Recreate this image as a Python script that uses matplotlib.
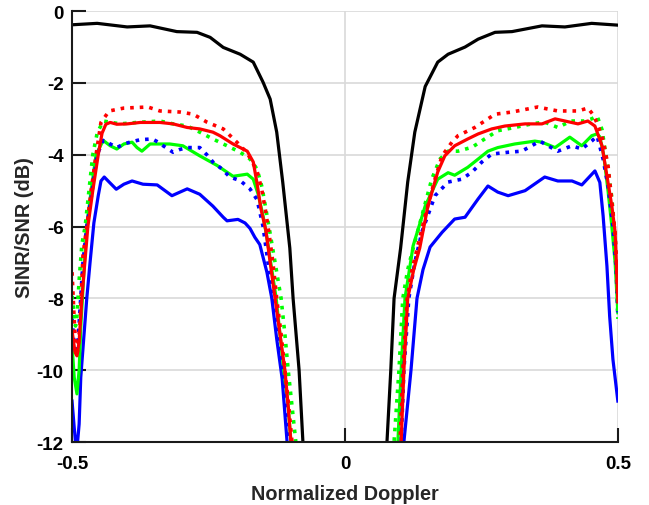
import matplotlib
matplotlib.use("Agg")
import matplotlib.pyplot as plt

# ---- data (normalized Doppler, SINR/SNR in dB) ----
black_xl = [-0.500, -0.454, -0.399, -0.357, -0.308, -0.271, -0.247, -0.223, -0.192, -0.168,
            -0.150, -0.137, -0.125, -0.114, -0.101, -0.095, -0.084, -0.077, -0.074]
black_yl = [-0.38, -0.34, -0.44, -0.41, -0.57, -0.59, -0.73, -1.01, -1.20, -1.42,
            -1.98, -2.45, -3.37, -4.76, -6.6, -8.0, -10.0, -12.0, -12.6]
black_xr = [0.074, 0.077, 0.084, 0.090, 0.102, 0.115, 0.128, 0.147, 0.170, 0.189, 0.220,
            0.244, 0.275, 0.306, 0.361, 0.403, 0.452, 0.500]
black_yr = [-12.6, -12.0, -10.0, -8.0, -6.6, -4.76, -3.37, -2.1, -1.42, -1.2, -1.0,
            -0.78, -0.59, -0.57, -0.41, -0.44, -0.34, -0.39]

red_dot_xl = [-0.500, -0.496, -0.493, -0.491, -0.489, -0.485, -0.480, -0.473, -0.465, -0.456,
              -0.447, -0.432, -0.405, -0.361, -0.339, -0.302, -0.278, -0.253, -0.223, -0.198,
              -0.179, -0.161, -0.152, -0.145, -0.139, -0.132, -0.125, -0.117, -0.110, -0.103,
              -0.097, -0.095]
red_dot_yl = [-7.27, -8.6, -9.4, -9.6, -9.4, -8.6, -6.8, -6.0, -5.0, -4.0,
              -3.1, -2.78, -2.70, -2.67, -2.78, -2.81, -2.87, -3.09, -3.28, -3.65,
              -3.95, -4.45, -5.0, -5.6, -6.2, -7.0, -8.0, -9.0, -10.0, -11.0,
              -12.0, -12.5]
red_dot_xr = [0.099, 0.101, 0.106, 0.114, 0.123, 0.134, 0.147, 0.165, 0.178, 0.196,
              0.207, 0.238, 0.275, 0.306, 0.353, 0.390, 0.427, 0.445, 0.454, 0.463,
              0.473, 0.482, 0.489, 0.495, 0.498, 0.500]
red_dot_yr = [-12.6, -12.0, -10.0, -8.0, -7.2, -6.5, -5.7, -4.68, -4.03, -3.65,
              -3.47, -3.24, -2.87, -2.81, -2.67, -2.78, -2.78, -2.70, -2.87, -3.15,
              -3.6, -4.3, -5.3, -6.2, -7.1, -8.0]

red_xl = [-0.500, -0.4945, -0.491, -0.487, -0.482, -0.476, -0.471, -0.462, -0.452, -0.445,
          -0.438, -0.430, -0.418, -0.399, -0.375, -0.339, -0.315, -0.289, -0.266, -0.242,
          -0.229, -0.205, -0.179, -0.168, -0.161, -0.154, -0.145, -0.137, -0.128, -0.119,
          -0.110, -0.104, -0.099, -0.097]
red_yl = [-8.9, -9.5, -9.6, -9.2, -8.0, -6.9, -6.0, -5.0, -4.0, -3.4,
          -3.15, -3.1, -3.15, -3.14, -3.1, -3.1, -3.14, -3.24, -3.28, -3.37,
          -3.47, -3.7, -3.9, -4.2, -4.8, -5.5, -6.1, -7.0, -8.0, -9.0,
          -10.0, -11.0, -12.0, -12.5]
red_xr = [0.101, 0.103, 0.108, 0.115, 0.126, 0.137, 0.152, 0.170, 0.183, 0.201,
          0.225, 0.244, 0.269, 0.293, 0.330, 0.361, 0.385, 0.403, 0.427, 0.445,
          0.458, 0.471, 0.480, 0.489, 0.495, 0.500]
red_yr = [-12.6, -12.0, -10.0, -8.0, -7.2, -6.6, -5.43, -4.48, -4.03, -3.75,
          -3.56, -3.42, -3.28, -3.2, -3.14, -3.14, -3.0, -3.06, -3.14, -3.06,
          -3.2, -3.75, -4.59, -5.43, -6.15, -8.1]

green_dot_xl = [-0.500, -0.496, -0.4936, -0.491, -0.487, -0.482, -0.476, -0.469, -0.462, -0.454,
                -0.443, -0.412, -0.381, -0.339, -0.315, -0.289, -0.266, -0.242, -0.216, -0.192,
                -0.174, -0.161, -0.152, -0.145, -0.137, -0.128, -0.117, -0.110, -0.104, -0.097,
                -0.090, -0.088]
green_dot_yl = [-7.93, -8.5, -8.77, -8.5, -7.5, -6.5, -6.0, -5.0, -4.0, -3.4,
                -3.06, -3.14, -3.1, -3.06, -3.14, -3.2, -3.37, -3.56, -3.75, -3.93,
                -4.12, -4.4, -4.9, -5.5, -6.2, -7.0, -8.0, -9.0, -10.0, -11.0,
                -12.0, -12.5]
green_dot_xr = [0.088, 0.090, 0.099, 0.106, 0.115, 0.125, 0.141, 0.159, 0.174, 0.189,
                0.207, 0.233, 0.256, 0.280, 0.311, 0.342, 0.366, 0.390, 0.414, 0.438,
                0.452, 0.462, 0.471, 0.480, 0.489, 0.495, 0.498, 0.500]
green_dot_yr = [-12.5, -12.0, -10.0, -8.0, -7.2, -6.6, -5.7, -4.68, -4.12, -3.9,
                -3.9, -3.79, -3.56, -3.33, -3.24, -3.14, -3.09, -3.24, -3.06, -3.06,
                -3.0, -2.92, -3.3, -4.2, -5.2, -6.3, -7.3, -8.57]

green_xl = [-0.500, -0.496, -0.491, -0.487, -0.484, -0.478, -0.473, -0.465, -0.456, -0.443,
            -0.430, -0.418, -0.405, -0.390, -0.381, -0.372, -0.357, -0.321, -0.297, -0.266,
            -0.234, -0.205, -0.179, -0.168, -0.159, -0.150, -0.143, -0.136, -0.126, -0.119,
            -0.112, -0.104, -0.099, -0.097]
green_yl = [-9.3, -10.2, -10.66, -10.0, -8.8, -7.2, -6.0, -5.0, -4.0, -3.6,
            -3.75, -3.84, -3.7, -3.65, -3.8, -3.9, -3.7, -3.7, -3.75, -4.03,
            -4.3, -4.6, -4.54, -4.68, -5.1, -5.7, -6.3, -7.0, -8.0, -9.0,
            -10.0, -11.0, -12.0, -12.5]
green_xr = [0.095, 0.097, 0.103, 0.110, 0.125, 0.147, 0.170, 0.189, 0.201, 0.225,
            0.244, 0.262, 0.280, 0.311, 0.348, 0.361, 0.385, 0.412, 0.434, 0.452,
            0.462, 0.467, 0.474, 0.482, 0.489, 0.495, 0.500]
green_yr = [-12.5, -12.0, -10.0, -8.0, -6.53, -5.43, -4.68, -4.5, -4.57, -4.35,
            -4.12, -3.9, -3.8, -3.7, -3.62, -3.65, -3.8, -3.51, -3.75, -3.47,
            -3.42, -3.5, -4.0, -5.0, -6.0, -7.0, -8.4]

blue_dot_xl = [-0.500, -0.496, -0.493, -0.489, -0.485, -0.480, -0.473, -0.463, -0.454, -0.443,
               -0.430, -0.418, -0.405, -0.394, -0.375, -0.353, -0.342, -0.333, -0.315, -0.302,
               -0.289, -0.266, -0.253, -0.242, -0.225, -0.211, -0.192, -0.174, -0.161, -0.150,
               -0.141, -0.132, -0.123, -0.114, -0.108, -0.104, -0.103]
blue_dot_yl = [-8.57, -9.3, -9.55, -9.2, -8.2, -7.0, -6.0, -5.0, -4.0, -3.6,
               -3.7, -3.8, -3.7, -3.65, -3.58, -3.56, -3.65, -3.75, -3.93, -3.85,
               -3.8, -3.8, -4.0, -4.2, -4.4, -4.62, -4.72, -4.95, -5.25, -6.0,
               -7.0, -8.0, -9.0, -10.0, -11.0, -12.0, -12.5]
blue_dot_xr = [0.101, 0.103, 0.108, 0.117, 0.128, 0.141, 0.165, 0.189, 0.214, 0.233,
               0.251, 0.269, 0.299, 0.324, 0.342, 0.357, 0.372, 0.390, 0.416, 0.434,
               0.452, 0.462, 0.473, 0.482, 0.491, 0.497, 0.500]
blue_dot_yr = [-12.5, -12.0, -10.0, -8.0, -7.0, -6.15, -5.14, -4.76, -4.68, -4.48,
               -4.2, -3.98, -3.93, -3.9, -3.75, -3.62, -3.75, -3.9, -3.75, -3.84,
               -3.62, -3.48, -4.12, -4.87, -5.98, -7.2, -8.5]

blue_xl = [-0.500, -0.496, -0.493, -0.491, -0.487, -0.484, -0.478, -0.473, -0.467, -0.460,
           -0.452, -0.447, -0.441, -0.432, -0.419, -0.405, -0.390, -0.370, -0.344, -0.317,
           -0.289, -0.266, -0.242, -0.223, -0.216, -0.196, -0.183, -0.174, -0.165, -0.156,
           -0.143, -0.134, -0.125, -0.115, -0.106, -0.104]
blue_yl = [-10.86, -11.6, -12.1, -12.2, -11.5, -10.2, -9.0, -8.0, -7.0, -5.9,
           -5.14, -4.73, -4.62, -4.76, -4.96, -4.82, -4.73, -4.82, -4.84, -5.14,
           -4.95, -5.1, -5.43, -5.74, -5.84, -5.8, -5.9, -6.05, -6.3, -6.5,
           -7.27, -8.0, -9.13, -10.24, -12.0, -12.5]
blue_xr = [0.106, 0.108, 0.121, 0.132, 0.143, 0.156, 0.178, 0.201, 0.220, 0.244,
           0.262, 0.280, 0.299, 0.330, 0.366, 0.390, 0.416, 0.434, 0.458, 0.467,
           0.473, 0.480, 0.485, 0.491, 0.500]
blue_yr = [-12.5, -12.0, -10.0, -8.0, -7.2, -6.57, -6.16, -5.79, -5.74, -5.23,
           -4.87, -5.04, -5.14, -5.0, -4.62, -4.73, -4.73, -4.84, -4.45, -4.77,
           -5.7, -7.1, -8.5, -9.7, -10.86]

x_ticks = [-0.5, 0, 0.5]
x_tick_labels = ['-0.5', '0', '0.5']
y_ticks = [0, -2, -4, -6, -8, -10, -12]

plt.rcParams['font.family'] = ['Liberation Sans', 'DejaVu Sans']
plt.rcParams['font.weight'] = 'bold'
plt.rcParams['axes.unicode_minus'] = False

fig = plt.figure(figsize=(6.49, 5.06), dpi=100)
ax = fig.add_axes([0.111, 0.1245, 0.841, 0.8515])

series = [
    (black_xl, black_yl, black_xr, black_yr, 'black', '-'),
    (blue_xl, blue_yl, blue_xr, blue_yr, '#0000ff', '-'),
    (green_xl, green_yl, green_xr, green_yr, '#00ff00', '-'),
    (blue_dot_xl, blue_dot_yl, blue_dot_xr, blue_dot_yr, '#0000ff', ':'),
    (green_dot_xl, green_dot_yl, green_dot_xr, green_dot_yr, '#00ff00', ':'),
    (red_xl, red_yl, red_xr, red_yr, '#ff0000', '-'),
    (red_dot_xl, red_dot_yl, red_dot_xr, red_dot_yr, '#ff0000', ':'),
]
for xl, yl, xr, yr, c, ls in series:
    lw = 2.3 if ls == '-' else 2.6
    ax.plot(xl, yl, color=c, linestyle=ls, linewidth=lw)
    ax.plot(xr, yr, color=c, linestyle=ls, linewidth=lw)

ax.set_xlim(-0.5, 0.5)
ax.set_ylim(-12, 0)
ax.set_xticks(x_ticks)
ax.set_xticklabels(x_tick_labels)
ax.set_yticks(y_ticks)
ax.grid(True, color='#d9d9d9', linewidth=1.2)
ax.set_axisbelow(True)
for s in ['top', 'right']:
    ax.spines[s].set_visible(False)
for s in ['left', 'bottom']:
    ax.spines[s].set_linewidth(1.5)
    ax.spines[s].set_color('#1a1a1a')
ax.tick_params(direction='in', length=10, width=1.5, labelsize=13.5, color='#1a1a1a')
ax.tick_params(axis='y', pad=6)
ax.tick_params(axis='x', pad=9)
ax.set_xlabel('Normalized Doppler', fontsize=14.3, fontweight='bold', color='#262626')
ax.set_ylabel('SINR/SNR (dB)', fontsize=14.3, fontweight='bold', color='#262626')
ax.xaxis.set_label_coords(0.5, -0.097)
ax.yaxis.set_label_coords(-0.0696, 0.5)

fig.savefig('out.png', dpi=100)
